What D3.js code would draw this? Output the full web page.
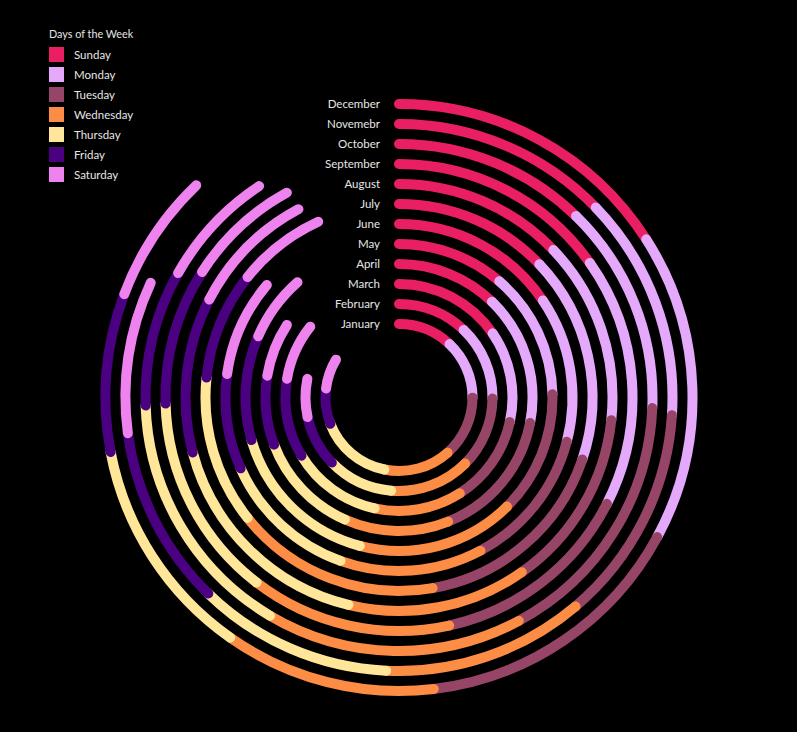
<!DOCTYPE html>
<html>
<head>
<meta charset="utf-8">
<script src="https://cdn.jsdelivr.net/npm/d3@7"></script>
<style>
  html, body { margin:0; padding:0; background:#000; }
  svg text { font-family:Lato,"Open Sans",sans-serif; fill:#e6e6e6; }
</style>
</head>
<body>
<div id="chart"></div>
<script>
// ── data ──────────────────────────────────────────
const MONTHS = ["January","February","March","April","May","June",
                "July","August","September","October","Novemebr","December"];
const DAYS = ["Sunday","Monday","Tuesday","Wednesday","Thursday","Friday","Saturday"];
const DAY_COLORS = ["#e91e63","#e5a9fb","#974566","#fd8c44","#ffe699","#4b0082","#ee82ee"];

// one value per weekday (Sun..Sat), per month
const SUN = [43.4,43.7,55.6,44.1,40.8,56.0,46.5,46.3,54.8,44.3,46.0,57.4];
const MON = [46.7,46.9,46.9,56.9,48.0,48.8,62.2,49.8,62.3,48.1,47.7,61.0];
const TUE = [48.5,44.4,45.1,57.4,46.5,47.2,61.3,48.8,50.5,59.4,46.1,54.8];
const WED = [52.9,49.8,44.8,45.5,59.5,47.7,61.5,48.8,50.0,58.8,42.9,41.9];
const THU = [57.5,41.1,46.8,45.4,59.1,46.2,44.4,61.4,50.9,57.6,41.5,44.2];
const FRI = [28.0,32.0,40.3,30.1,39.6,31.9,32.6,42.2,34.0,31.2,38.3,31.3];
const SAT = [24.0,23.6,29.1,23.5,25.1,32.6,26.8,34.6,28.8,27.1,32.3,25.7];
const SERIES = [SUN,MON,TUE,WED,THU,FRI,SAT];

// ── layout ───────────────────────────────────────
const W = 797, H = 732;
const CX = 399, CY = 397.5;
const STROKE = 10;

const svg = d3.select("#chart").append("svg")
  .attr("width",W).attr("height",H);

const g = svg.append("g").attr("transform",`translate(${CX},${CY})`);

// value -> angle (0 at top, clockwise)
const ang = d3.scaleLinear().domain([0,360]).range([0,2*Math.PI]);
// month -> radius
const rad = d3.scalePoint().domain(MONTHS).range([73.5,293.5]);

const rows = [];
MONTHS.forEach((m,i)=>{
  let acc = 0;
  DAYS.forEach((d,j)=>{
    const v = SERIES[j][i];
    rows.push({month:m, day:d, j, a0:acc, a1:acc+v});
    acc += v;
  });
});

function arcPath(d) {
  const p = d3.path();
  const r = rad(d.month);
  p.arc(0,0,r, ang(d.a0)-Math.PI/2, ang(d.a1)-Math.PI/2);
  return p.toString();
}

g.selectAll(".seg").data(rows).join("path")
  .attr("class","seg")
  .attr("d",arcPath)
  .attr("fill","none")
  .attr("stroke",d=>DAY_COLORS[d.j])
  .attr("stroke-width",STROKE)
  .attr("stroke-linecap","round");

// month labels
g.selectAll(".mlab").data(MONTHS).join("text")
  .attr("class","mlab")
  .attr("x",-19)
  .attr("y",m=>-rad(m))
  .attr("dy","0.35em")
  .attr("text-anchor","end")
  .attr("font-size",11.5)
  .text(m=>m);

// legend
const lg = svg.append("g").attr("transform","translate(49,34)");
lg.append("text").attr("x",0).attr("y",0).attr("dy","0.35em")
  .attr("font-size",10.8).text("Days of the Week");
const item = lg.selectAll(".li").data(DAYS).join("g")
  .attr("class","li")
  .attr("transform",(d,i)=>`translate(0,${13+i*20})`);
item.append("rect").attr("width",15).attr("height",15)
  .attr("fill",(d,i)=>DAY_COLORS[i]);
item.append("text").attr("x",25).attr("y",7.5).attr("dy","0.35em")
  .attr("font-size",11.5).text(d=>d);
</script>
</body>
</html>
